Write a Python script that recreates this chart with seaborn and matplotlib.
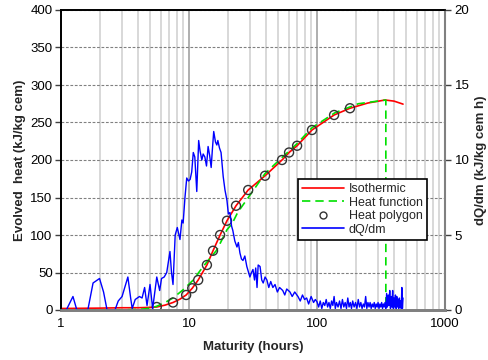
import numpy as np
import pandas as pd
import matplotlib
matplotlib.use("Agg")
import matplotlib.pyplot as plt
from matplotlib.lines import Line2D
import seaborn as sns

# ---------------- data ----------------
iso_x = [1, 2, 3, 4, 5, 5.6, 6.5, 7.5, 8.5, 9.5, 10.6, 11.8, 13.8, 15.4, 17.5, 19.8,
         23.3, 29, 39.3, 53.3, 60.5, 69.9, 91.4, 136, 181, 250, 340, 400, 470]
iso_y = [2, 2.5, 3, 3, 3.5, 4, 6.5, 10, 14.5, 20, 29, 40, 60, 79, 100, 119,
         139, 160, 179, 200, 210, 219, 240, 260, 269, 276, 280, 278.5, 274.5]

fun_x = [1, 2, 3, 4, 4.5, 5, 5.6, 6.5, 7.5, 9.0, 10.8, 12.9, 16.5, 19.8, 21.7,
         24, 29.9, 39.3, 53, 70, 91.4, 138, 210, 345, 345]
fun_y = [0, 0, 0.3, 0.8, 1.5, 2.5, 5, 10, 16, 27, 40, 58, 80, 107, 115,
         130, 153, 182, 203, 222, 243, 263, 275, 280, 0]

poly_x = [5.6, 7.5, 9.5, 10.6, 11.8, 13.8, 15.4, 17.5, 19.8, 23.3, 29, 39.3,
          53.3, 60.5, 69.9, 91.4, 136, 181]
poly_y = [4, 10, 20, 29, 40, 60, 79, 100, 119, 139, 160, 179,
          200, 210, 219, 240, 260, 269]

dq_x = [1.0, 1.1, 1.24, 1.33, 1.45, 1.62, 1.78, 2.0, 2.15, 2.29, 2.45, 2.64, 2.8, 3.0,
        3.33, 3.5, 3.6, 3.8, 4.1, 4.3, 4.5, 4.7, 4.96, 5.2, 5.6, 5.9, 6.1, 6.4, 6.7,
        7.1, 7.3, 7.5, 7.8, 8.1, 8.5, 8.8, 9.0, 9.3, 9.6, 9.9, 10.2, 10.5, 10.8, 11.1,
        11.5, 11.9, 12.2, 12.6, 12.9, 13.3, 13.7, 14.1, 14.5, 14.9, 15.2, 15.6, 16.1,
        16.5, 16.8, 17.3, 17.8, 18.5, 19.1, 19.8, 20.3, 20.9, 21.5, 22.0, 22.8, 23.7,
        24.3, 25, 25.7, 26.4, 27.3, 28.3, 29.0, 29.9, 30.8, 31.6, 32.5, 33.2, 34,
        34.7, 35.9, 37, 38, 39.3, 40.6, 42, 43.5, 45.2, 47, 49, 51, 54, 56, 58, 61.5,
        64, 67, 71, 74, 77, 80, 83, 86, 90, 94, 97, 100, 103, 106, 109, 112, 115,
        118, 121, 124, 127, 130, 133, 136, 139, 142, 146, 150, 154, 158, 162, 166,
        170, 174, 178, 182, 186, 190, 195, 200, 205, 210, 215, 220, 225, 230, 235,
        240, 245, 250, 255, 260, 265, 270, 275, 280, 285, 290, 295, 300, 305, 310,
        315, 320, 325, 330, 335, 340, 345, 350, 355, 360, 365, 370, 375, 380, 385,
        390, 395, 400, 405, 410, 415, 420, 425, 430, 435, 440, 445, 450, 455, 460,
        465, 470]
dq_y = [0, 0, 0.9, 0, 0, 0, 1.8, 2.1, 1.2, 0, 0, 0, 0.6, 0.9,
        2.2, 0.8, 0.1, 0.7, 0.9, 0.8, 1.5, 0.3, 1.7, 0.1, 2.2, 1.3, 2.1, 2.2, 2.5,
        3.9, 2.5, 1.7, 5.0, 5.5, 4.7, 6.0, 5.8, 7.5, 8.8, 8.6, 8.7, 9.2, 10.5, 10.2,
        7.9, 11.3, 10.6, 10.0, 10.4, 10.2, 9.6, 10.9, 10.3, 9.5, 10.6, 11.9, 11.2,
        11.0, 11.3, 10.8, 10.5, 8.9, 8.0, 7.3, 6.4, 6.5, 5.6, 5.3, 4.6, 4.2,
        4.5, 3.8, 3.4, 3.3, 3.6, 2.9, 2.6, 2.2, 2.5, 2.7, 2.0, 2.8, 1.5,
        3.0, 2.9, 2.0, 1.8, 2.2, 2.0, 1.5, 1.9, 1.5, 1.7, 1.2, 1.5, 1.3, 1.0, 1.4, 1.2,
        0.9, 1.2, 0.9, 0.6, 1.0, 0.7, 0.8, 0.4, 0.9, 0.5, 0.7, 0.55, 0.2, 0.6, 0.1, 0.5, 0.3,
        0.7, 0.2, 0.5, 0.1, 0.6, 0.3, 0.9, 0.1, 0.5, 0.2, 0.6, 0.1, 0.7, 0.2, 0.5,
        0.1, 0.8, 0.2, 0.5, 0.1, 0.6, 0.2, 0.5, 0.1, 0.7, 0.2, 0.5, 0.1, 0.4, 0.2,
        0.9, 0.1, 0.5, 0.2, 0.5, 0.1, 0.4, 0.2, 0.5, 0.1, 0.4, 0.2, 0.5, 0.1, 0.4,
        0.2, 0.5, 0.1, 0.4, 0.2, 0.5, 0.1, 1.1, 0.2, 1.0, 0.3, 1.3, 0.1, 0.9, 0.2,
        1.3, 0.1, 0.8, 0.2, 1.0, 0.1, 0.9, 0.2, 0.7, 0.1, 0.8, 0.2, 0.6, 0.1, 1.5,
        0.1, 0.8]

# ---------------- plot ----------------
sns.set_theme(style="white")
plt.rcParams["font.family"] = ["Liberation Sans", "DejaVu Sans"]

fig = plt.figure(figsize=(4.89, 3.6), dpi=100)
ax = fig.add_axes([61 / 489, 50 / 360, 384 / 489, 300 / 360])
ax2 = ax.twinx()

ax.set_xscale("log")
ax.set_xlim(1, 1000)
ax.set_ylim(0, 400)
ax2.set_ylim(0, 20)

# grid
ax.set_axisbelow(True)
ax.grid(which="minor", axis="x", color="#d6d6d6", lw=1.3)
ax.grid(which="major", axis="x", color="#a8a8a8", lw=1.3)
ax.grid(which="major", axis="y", color="#808080", lw=0.8, ls=(0, (2.5, 1.5)))

sns.lineplot(x=iso_x, y=iso_y, ax=ax, color="#ff0000", lw=1.2, sort=False,
             estimator=None, zorder=3)
sns.lineplot(x=fun_x, y=fun_y, ax=ax, color="#00e000", lw=1.2, sort=False,
             estimator=None, zorder=3, linestyle=(0, (5, 3)))
sns.scatterplot(x=poly_x, y=poly_y, ax=ax, s=42, facecolor="none",
                edgecolor="#333333", linewidth=1.0, zorder=4)
sns.lineplot(x=dq_x, y=dq_y, ax=ax2, color="#0000ff", lw=1.0, sort=False,
             estimator=None, zorder=2)

ax.set_yticks(np.arange(0, 401, 50))
ax2.set_yticks([0, 5, 10, 15, 20])
ax.set_xticks([1, 10, 100, 1000])
ax.set_xticklabels(["1", "10", "100", "1000"])
ax.tick_params(which="minor", length=0)
ax.tick_params(axis="both", which="major", labelsize=9.5, length=4, width=1,
               direction="out", colors="#404040", labelcolor="black", pad=2)
ax.tick_params(axis="x", which="major", pad=2)
ax2.tick_params(axis="y", labelsize=9.5, length=4, width=1, direction="out",
                colors="#404040", labelcolor="black", pad=3)
ax2.grid(False)

for a in (ax, ax2):
    for side in ["left", "right", "bottom", "top"]:
        a.spines[side].set_visible(True)
ax.spines["top"].set_color("black")
ax.spines["left"].set_color("black")
ax.spines["bottom"].set_color("#808080")
ax.spines["bottom"].set_linewidth(2)
ax2.spines["right"].set_color("#808080")
ax2.spines["right"].set_linewidth(1.5)
ax2.spines["bottom"].set_color("#808080")
ax2.spines["bottom"].set_linewidth(2)
ax2.spines["top"].set_color("black")
ax2.spines["left"].set_color("black")

ax.set_xlabel("Maturity (hours)", fontsize=9.5, fontweight="bold", labelpad=8)
ax.set_ylabel("Evolved  heat (kJ/kg cem)", fontsize=9.5, fontweight="bold", labelpad=3)
ax2.set_ylabel("dQ/dm (kJ/kg cem h)", fontsize=9.5, fontweight="bold", labelpad=4)

handles = [
    Line2D([], [], color="#ff0000", lw=1.2),
    Line2D([], [], color="#00e000", lw=1.2, ls=(0, (5, 3))),
    Line2D([], [], color="#333333", lw=0, marker="o", markersize=5,
           markerfacecolor="none", markeredgewidth=1.0),
    Line2D([], [], color="#0000ff", lw=1.2),
]
labels = ["Isothermic", "Heat function", "Heat polygon", "dQ/dm"]
leg = ax2.legend(handles, labels, loc="upper left",
                 bbox_to_anchor=((298 - 61) / 384, (310 - 179) / 300),
                 fontsize=9, frameon=True, fancybox=False, framealpha=1,
                 edgecolor="black", handlelength=3.3, handletextpad=0.4,
                 borderpad=0.35, labelspacing=0.12, borderaxespad=0)
leg.get_frame().set_linewidth(1.2)
leg.set_zorder(10)

fig.savefig("out.png", dpi=100)
